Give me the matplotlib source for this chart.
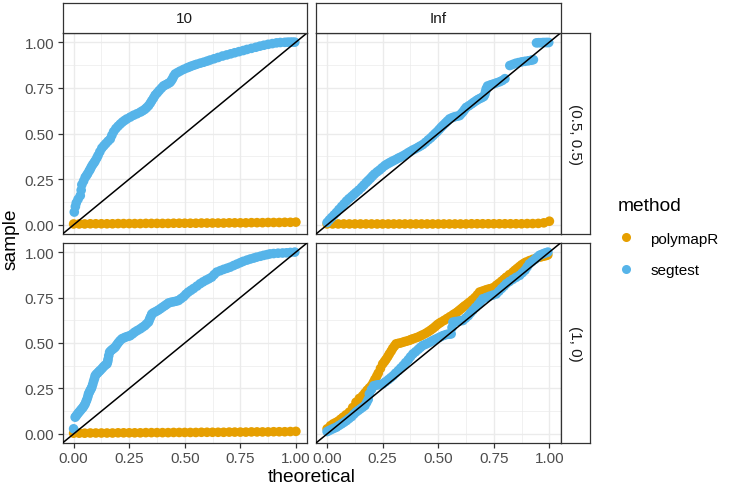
import matplotlib
matplotlib.use("Agg")
import matplotlib.pyplot as plt
from matplotlib.lines import Line2D

plt.rcParams['font.family'] = ['Liberation Sans', 'DejaVu Sans']

# ---------------- data ----------------
methods = ["polymapR", "segtest"]
method_colors = {"polymapR": "#E69F00", "segtest": "#56B4E9"}
col_labels = ["10", "Inf"]
row_labels = ["(0.5, 0.5)", "(1, 0)"]
tick_values = [0.0, 0.25, 0.5, 0.75, 1.0]
tick_labels = ["0.00", "0.25", "0.50", "0.75", "1.00"]

flat_x = [0.0, 0.025, 0.05, 0.075, 0.1, 0.125, 0.15, 0.175, 0.2, 0.225,
          0.25, 0.275, 0.3, 0.325, 0.35, 0.375, 0.4, 0.425, 0.45, 0.475,
          0.5, 0.525, 0.55, 0.575, 0.6, 0.625, 0.65, 0.675, 0.7, 0.725,
          0.75, 0.775, 0.8, 0.825, 0.85, 0.875, 0.9, 0.925, 0.95, 0.975, 1.0]

# top-left: 10, (0.5, 0.5)
tl_poly_y = [0.005, 0.005, 0.005, 0.006, 0.006, 0.006, 0.006, 0.006, 0.007, 0.007,
             0.007, 0.007, 0.007, 0.008, 0.008, 0.008, 0.008, 0.008, 0.009, 0.009,
             0.009, 0.009, 0.009, 0.010, 0.010, 0.010, 0.010, 0.010, 0.011, 0.011,
             0.011, 0.011, 0.012, 0.012, 0.012, 0.013, 0.013, 0.013, 0.014, 0.014, 0.015]
tl_seg = [(0.003, 0.07), (0.008, 0.10), (0.012, 0.12), (0.02, 0.14), (0.03, 0.16),
          (0.034, 0.19), (0.037, 0.22), (0.045, 0.24), (0.052, 0.26), (0.058, 0.27),
          (0.063, 0.28), (0.07, 0.295), (0.075, 0.305), (0.08, 0.318), (0.086, 0.33),
          (0.092, 0.34), (0.097, 0.35), (0.104, 0.365), (0.11, 0.38), (0.118, 0.40),
          (0.127, 0.42), (0.136, 0.433), (0.145, 0.445), (0.155, 0.458), (0.165, 0.47),
          (0.172, 0.49), (0.18, 0.51), (0.19, 0.527), (0.2, 0.54), (0.21, 0.552),
          (0.22, 0.563), (0.23, 0.572), (0.24, 0.58), (0.255, 0.59), (0.27, 0.6),
          (0.285, 0.608), (0.30, 0.617), (0.31, 0.624), (0.32, 0.632), (0.328, 0.641),
          (0.337, 0.652), (0.345, 0.666), (0.352, 0.68), (0.36, 0.695), (0.367, 0.71),
          (0.376, 0.722), (0.385, 0.735), (0.395, 0.748), (0.404, 0.76), (0.412, 0.765),
          (0.42, 0.77), (0.427, 0.775), (0.434, 0.78), (0.44, 0.79), (0.445, 0.80),
          (0.45, 0.813), (0.457, 0.826), (0.468, 0.834), (0.48, 0.842), (0.495, 0.851),
          (0.51, 0.859), (0.52, 0.864), (0.53, 0.869), (0.542, 0.874), (0.554, 0.879),
          (0.57, 0.885), (0.585, 0.89), (0.6, 0.896), (0.614, 0.902), (0.632, 0.909),
          (0.65, 0.916), (0.67, 0.924), (0.689, 0.93), (0.707, 0.936), (0.725, 0.942),
          (0.744, 0.948), (0.763, 0.954), (0.78, 0.96), (0.8, 0.966), (0.82, 0.972),
          (0.838, 0.978), (0.856, 0.983), (0.875, 0.988), (0.894, 0.992), (0.913, 0.996),
          (0.93, 0.998), (0.95, 0.999), (0.963, 1.0), (0.975, 1.0), (0.985, 1.0),
          (0.995, 1.0)]

# top-right: Inf, (0.5, 0.5)
tr_poly_y = [0.005, 0.005, 0.005, 0.005, 0.005, 0.005, 0.005, 0.005, 0.005, 0.005,
             0.005, 0.005, 0.005, 0.005, 0.005, 0.005, 0.005, 0.005, 0.005, 0.005,
             0.005, 0.005, 0.005, 0.005, 0.005, 0.005, 0.006, 0.006, 0.006, 0.006,
             0.006, 0.006, 0.006, 0.006, 0.006, 0.006, 0.007, 0.007, 0.008, 0.011, 0.02]
tr_seg = [(0.0, 0.013), (0.01, 0.027), (0.02, 0.04), (0.031, 0.054), (0.042, 0.068),
          (0.053, 0.084), (0.065, 0.1), (0.076, 0.115), (0.087, 0.13), (0.098, 0.143),
          (0.11, 0.155), (0.12, 0.166), (0.13, 0.177), (0.142, 0.19), (0.155, 0.205),
          (0.165, 0.218), (0.176, 0.232), (0.185, 0.243), (0.195, 0.255), (0.204, 0.267),
          (0.213, 0.278), (0.225, 0.29), (0.236, 0.30), (0.247, 0.312), (0.259, 0.324),
          (0.268, 0.331), (0.278, 0.338), (0.287, 0.344), (0.296, 0.35), (0.308, 0.357),
          (0.32, 0.365), (0.331, 0.371), (0.342, 0.378), (0.353, 0.386), (0.365, 0.395),
          (0.375, 0.402), (0.386, 0.41), (0.398, 0.417), (0.41, 0.425), (0.42, 0.432),
          (0.431, 0.44), (0.443, 0.452), (0.455, 0.465), (0.466, 0.476), (0.476, 0.488),
          (0.486, 0.5), (0.495, 0.51), (0.504, 0.522), (0.513, 0.534), (0.522, 0.545),
          (0.532, 0.557), (0.541, 0.568), (0.551, 0.58), (0.563, 0.587), (0.575, 0.592),
          (0.586, 0.595), (0.596, 0.598), (0.604, 0.609), (0.612, 0.62), (0.619, 0.632),
          (0.626, 0.643), (0.638, 0.652), (0.65, 0.662), (0.66, 0.671), (0.671, 0.68),
          (0.68, 0.687), (0.69, 0.693), (0.698, 0.698), (0.705, 0.703), (0.71, 0.715),
          (0.713, 0.73), (0.716, 0.745), (0.722, 0.76), (0.735, 0.766), (0.748, 0.771),
          (0.762, 0.777), (0.776, 0.783), (0.788, 0.79), (0.80, 0.8),
          (0.822, 0.872), (0.835, 0.878), (0.848, 0.884), (0.861, 0.888), (0.875, 0.892),
          (0.89, 0.895), (0.905, 0.898), (0.918, 0.901), (0.928, 0.904),
          (0.942, 0.996), (0.952, 0.997), (0.962, 0.997), (0.972, 0.998), (0.982, 0.998),
          (0.99, 0.998), (0.997, 0.998)]

# bottom-left: 10, (1, 0)
bl_poly_y = [0.004, 0.004, 0.004, 0.005, 0.005, 0.005, 0.005, 0.005, 0.006, 0.006,
             0.006, 0.006, 0.006, 0.007, 0.007, 0.007, 0.007, 0.007, 0.008, 0.008,
             0.008, 0.008, 0.008, 0.009, 0.009, 0.009, 0.009, 0.009, 0.010, 0.010,
             0.010, 0.010, 0.011, 0.011, 0.011, 0.011, 0.012, 0.012, 0.012, 0.013, 0.014]
bl_seg = [(0.0, 0.028), (0.007, 0.092), (0.012, 0.10), (0.018, 0.11), (0.024, 0.119),
          (0.03, 0.128), (0.036, 0.137), (0.042, 0.145), (0.047, 0.155), (0.052, 0.165),
          (0.056, 0.178), (0.06, 0.19), (0.064, 0.205), (0.067, 0.22), (0.071, 0.23),
          (0.075, 0.24), (0.079, 0.249), (0.082, 0.257), (0.086, 0.273), (0.09, 0.29),
          (0.094, 0.305), (0.097, 0.32), (0.102, 0.328), (0.108, 0.335), (0.114, 0.343),
          (0.12, 0.35), (0.128, 0.36), (0.135, 0.37), (0.142, 0.378), (0.15, 0.385),
          (0.153, 0.397), (0.155, 0.41), (0.158, 0.43), (0.162, 0.45), (0.168, 0.458),
          (0.175, 0.465), (0.181, 0.471), (0.187, 0.477), (0.193, 0.488), (0.2, 0.5),
          (0.208, 0.512), (0.217, 0.523), (0.226, 0.528), (0.235, 0.533), (0.245, 0.537),
          (0.254, 0.54), (0.265, 0.55), (0.275, 0.56), (0.287, 0.569), (0.3, 0.578),
          (0.31, 0.587), (0.32, 0.595), (0.328, 0.605), (0.337, 0.615), (0.341, 0.628),
          (0.345, 0.64), (0.349, 0.65), (0.352, 0.66), (0.36, 0.667), (0.37, 0.673),
          (0.38, 0.68), (0.39, 0.688), (0.4, 0.697), (0.41, 0.705), (0.418, 0.712),
          (0.427, 0.72), (0.438, 0.724), (0.45, 0.727), (0.461, 0.73), (0.472, 0.734),
          (0.483, 0.744), (0.495, 0.755), (0.505, 0.768), (0.516, 0.78), (0.528, 0.79),
          (0.54, 0.8), (0.555, 0.813), (0.569, 0.826), (0.582, 0.836), (0.595, 0.845),
          (0.608, 0.853), (0.621, 0.862), (0.632, 0.876), (0.644, 0.89), (0.66, 0.898),
          (0.675, 0.905), (0.69, 0.911), (0.704, 0.917), (0.72, 0.926), (0.735, 0.934),
          (0.75, 0.942), (0.763, 0.949), (0.78, 0.956), (0.795, 0.962), (0.81, 0.967),
          (0.823, 0.972), (0.84, 0.977), (0.855, 0.982), (0.87, 0.986), (0.883, 0.99),
          (0.9, 0.992), (0.92, 0.994), (0.94, 0.995), (0.958, 0.996), (0.975, 0.998),
          (0.995, 1.0)]

# bottom-right: Inf, (1, 0)
br_poly = [(0.0, 0.028), (0.015, 0.045), (0.027, 0.055), (0.038, 0.062), (0.05, 0.07),
           (0.061, 0.081), (0.072, 0.092), (0.085, 0.105), (0.1, 0.12), (0.115, 0.145),
           (0.13, 0.174), (0.145, 0.195), (0.16, 0.21), (0.17, 0.225), (0.18, 0.24),
           (0.19, 0.253), (0.2, 0.266), (0.208, 0.283), (0.215, 0.3), (0.223, 0.317),
           (0.23, 0.334), (0.24, 0.36), (0.25, 0.385), (0.258, 0.398), (0.265, 0.41),
           (0.273, 0.425), (0.28, 0.44), (0.288, 0.455), (0.295, 0.47), (0.303, 0.483),
           (0.31, 0.495), (0.32, 0.498), (0.33, 0.5), (0.34, 0.504), (0.35, 0.508),
           (0.36, 0.511), (0.37, 0.515), (0.378, 0.519), (0.386, 0.523), (0.398, 0.528),
           (0.41, 0.533), (0.42, 0.539), (0.43, 0.545), (0.443, 0.553), (0.455, 0.562),
           (0.466, 0.571), (0.476, 0.58), (0.486, 0.59), (0.495, 0.6), (0.504, 0.608),
           (0.513, 0.615), (0.527, 0.625), (0.54, 0.635), (0.553, 0.645), (0.566, 0.655),
           (0.575, 0.662), (0.585, 0.67), (0.594, 0.679), (0.603, 0.688), (0.612, 0.697),
           (0.62, 0.705), (0.631, 0.715), (0.641, 0.725), (0.653, 0.737), (0.665, 0.75),
           (0.676, 0.765), (0.686, 0.78), (0.698, 0.785), (0.71, 0.79), (0.72, 0.794),
           (0.731, 0.798), (0.741, 0.801), (0.75, 0.805), (0.761, 0.817), (0.773, 0.828),
           (0.785, 0.84), (0.796, 0.851), (0.806, 0.862), (0.82, 0.876), (0.836, 0.89),
           (0.845, 0.9), (0.855, 0.91), (0.865, 0.92), (0.875, 0.93), (0.885, 0.938),
           (0.895, 0.945), (0.91, 0.953), (0.925, 0.96), (0.94, 0.966), (0.955, 0.972),
           (0.965, 0.975), (0.975, 0.978), (0.985, 0.981), (0.993, 0.985)]
br_seg = [(0.0, 0.013), (0.01, 0.019), (0.02, 0.025), (0.031, 0.031), (0.042, 0.037),
          (0.053, 0.046), (0.065, 0.055), (0.076, 0.064), (0.087, 0.073), (0.098, 0.084),
          (0.11, 0.095), (0.12, 0.108), (0.13, 0.12), (0.14, 0.129), (0.15, 0.138),
          (0.16, 0.147), (0.17, 0.156), (0.178, 0.173), (0.185, 0.19), (0.19, 0.22),
          (0.2, 0.245), (0.21, 0.265), (0.22, 0.268), (0.23, 0.27), (0.24, 0.272),
          (0.25, 0.275), (0.262, 0.286), (0.275, 0.298), (0.286, 0.309), (0.297, 0.32),
          (0.308, 0.334), (0.32, 0.348), (0.331, 0.362), (0.342, 0.376), (0.353, 0.392),
          (0.365, 0.408), (0.375, 0.424), (0.386, 0.44), (0.398, 0.452), (0.41, 0.465),
          (0.42, 0.476), (0.43, 0.486), (0.443, 0.493), (0.455, 0.5), (0.466, 0.507),
          (0.476, 0.514), (0.488, 0.521), (0.5, 0.528), (0.51, 0.534), (0.52, 0.54),
          (0.53, 0.544), (0.54, 0.548), (0.55, 0.549), (0.558, 0.55), (0.562, 0.585),
          (0.566, 0.615), (0.578, 0.618), (0.59, 0.62), (0.6, 0.622), (0.611, 0.624),
          (0.623, 0.637), (0.635, 0.65), (0.645, 0.665), (0.656, 0.68), (0.668, 0.696),
          (0.68, 0.712), (0.69, 0.728), (0.7, 0.743), (0.715, 0.75), (0.73, 0.757),
          (0.745, 0.763), (0.761, 0.77), (0.773, 0.785), (0.785, 0.8), (0.796, 0.813),
          (0.806, 0.826), (0.82, 0.838), (0.835, 0.85), (0.85, 0.861), (0.866, 0.872),
          (0.878, 0.886), (0.89, 0.9), (0.9, 0.918), (0.91, 0.936), (0.922, 0.948),
          (0.935, 0.96), (0.945, 0.971), (0.955, 0.982), (0.965, 0.987), (0.975, 0.992),
          (0.984, 0.996), (0.993, 1.0)]


def unzip(pairs):
    return [p[0] for p in pairs], [p[1] for p in pairs]


panels = {
    (0, 0): {"polymapR": (flat_x, tl_poly_y), "segtest": unzip(tl_seg)},
    (0, 1): {"polymapR": (flat_x, tr_poly_y), "segtest": unzip(tr_seg)},
    (1, 0): {"polymapR": (flat_x, bl_poly_y), "segtest": unzip(bl_seg)},
    (1, 1): {"polymapR": unzip(br_poly), "segtest": unzip(br_seg)},
}

# ---------------- layout (pixels) ----------------
W, H = 733, 489
fig = plt.figure(figsize=(W / 100, H / 100), dpi=100)
fig.patch.set_facecolor("white")

col_x = [(62.5, 307.0), (316.0, 560.5)]
row_y = [(34.0, 235.0), (244.0, 444.0)]
strip_top = (4.3, 34.0)
strip_right = (560.5, 590.0)

BORDER = "#333333"
GRID = "#EBEBEB"
AXTXT = "#4D4D4D"
PT = 48


def px_axes(x0, y0, x1, y1):
    return fig.add_axes([x0 / W, 1 - y1 / H, (x1 - x0) / W, (y1 - y0) / H])


for (r, c), series in panels.items():
    ax = px_axes(col_x[c][0], row_y[r][0], col_x[c][1], row_y[r][1])
    ax.set_xlim(-0.05, 1.05)
    ax.set_ylim(-0.05, 1.05)
    ax.set_xticks(tick_values)
    ax.set_yticks(tick_values)
    ax.set_xticks([0.125, 0.375, 0.625, 0.875], minor=True)
    ax.set_yticks([0.125, 0.375, 0.625, 0.875], minor=True)
    ax.grid(True, which="major", color=GRID, lw=1.0, zorder=0)
    ax.grid(True, which="minor", color=GRID, lw=0.5, zorder=0)
    ax.set_axisbelow(True)
    for m in methods:
        xs, ys = series[m]
        ax.scatter(xs, ys, s=PT, color=method_colors[m], edgecolors="none",
                   zorder=2, clip_on=True)
    ax.axline((0, 0), (1, 1), color="black", lw=1.1, zorder=3)
    for sp in ax.spines.values():
        sp.set_color(BORDER)
        sp.set_linewidth(0.9)
    ax.tick_params(which="minor", length=0)
    ax.tick_params(which="major", length=3.4, width=0.9, color=BORDER,
                   labelsize=11, labelcolor=AXTXT, pad=2.5)
    if r == 0:
        ax.tick_params(axis="x", which="major", length=0, labelbottom=False)
    else:
        ax.set_xticklabels(tick_labels)
    if c == 1:
        ax.tick_params(axis="y", which="major", length=0, labelleft=False)
    else:
        ax.set_yticklabels(tick_labels)

# strips
for c, lab in enumerate(col_labels):
    sa = px_axes(col_x[c][0], strip_top[0], col_x[c][1], strip_top[1])
    sa.set_xticks([]); sa.set_yticks([])
    sa.set_facecolor("white")
    for sp in sa.spines.values():
        sp.set_color(BORDER); sp.set_linewidth(0.9)
    sa.text(0.5, 0.5, lab, ha="center", va="center", fontsize=11,
            color="#1A1A1A", transform=sa.transAxes)

for r, lab in enumerate(row_labels):
    sa = px_axes(strip_right[0], row_y[r][0], strip_right[1], row_y[r][1])
    sa.set_xticks([]); sa.set_yticks([])
    sa.set_facecolor("white")
    for sp in sa.spines.values():
        sp.set_color(BORDER); sp.set_linewidth(0.9)
    sa.text(0.5, 0.5, lab, ha="center", va="center", fontsize=11,
            color="#1A1A1A", rotation=-90, transform=sa.transAxes)

# axis titles
fig.text(311.5 / W, 1 - 478 / H, "theoretical", ha="center", va="center",
         fontsize=13.75, color="black")
fig.text(11 / W, 1 - 239 / H, "sample", ha="center", va="center",
         rotation=90, fontsize=13.75, color="black")

# legend
handles = [Line2D([], [], marker="o", linestyle="none", markersize=6.5,
                  markerfacecolor=method_colors[m], markeredgecolor="none")
           for m in methods]
leg = fig.legend(handles, methods, title="method", loc="upper left",
                 bbox_to_anchor=(612 / W, 1 - 192 / H), frameon=False,
                 fontsize=11, title_fontsize=13.75, handlelength=1.0,
                 handletextpad=1.1, labelspacing=1.15, borderaxespad=0,
                 alignment="left")

fig.savefig("out.png", dpi=100, facecolor="white")
